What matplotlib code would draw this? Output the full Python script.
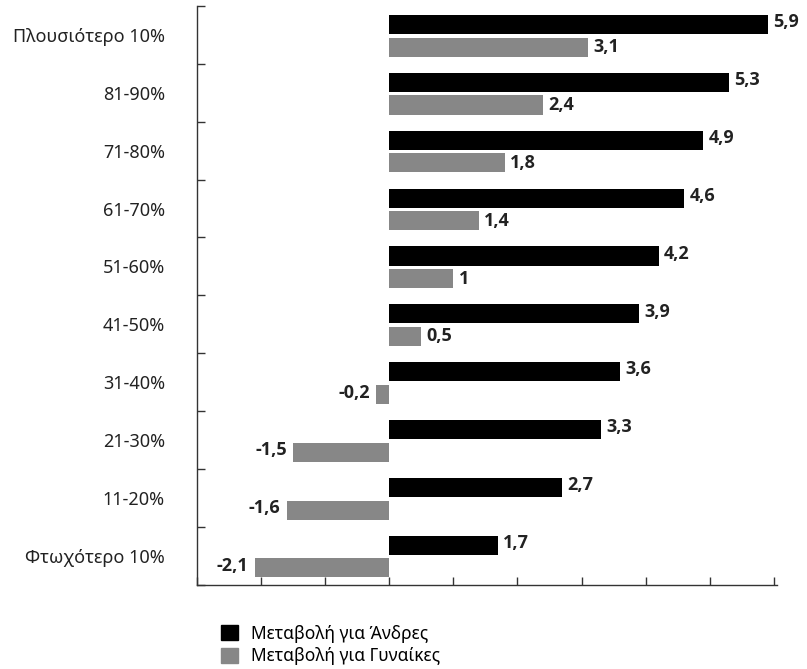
import numpy as np
import matplotlib.pyplot as plt
from matplotlib.patches import Patch

plt.rcParams['font.family'] = ['Noto Sans', 'DejaVu Sans']

categories = ["Φτωχότερο 10%", "11-20%", "21-30%", "31-40%", "41-50%",
              "51-60%", "61-70%", "71-80%", "81-90%", "Πλουσιότερο 10%"]
men = [1.7, 2.7, 3.3, 3.6, 3.9, 4.2, 4.6, 4.9, 5.3, 5.9]
women = [-2.1, -1.6, -1.5, -0.2, 0.5, 1, 1.4, 1.8, 2.4, 3.1]
men_label = "Μεταβολή για Άνδρες"
women_label = "Μεταβολή για Γυναίκες"

black = "#000000"
grey = "#878787"
txt = "#222222"
vfont = dict(fontsize=13, fontweight="bold", color=txt,
             family=["Open Sans", "DejaVu Sans"])

fig = plt.figure(figsize=(8.07, 6.69), dpi=100)
ax = fig.add_axes([0.244, 0.126, 0.719, 0.865])

y = np.arange(len(categories))
h = 0.33
ax.barh(y + 0.18, men, height=h, color=black)
ax.barh(y - 0.21, women, height=h, color=grey)

def fmt(v):
    return ("%g" % v).replace(".", ",")

for yi, v in zip(y, men):
    ax.text(v + 0.08, yi + 0.22, fmt(v), ha="left", va="center", **vfont)
for yi, v in zip(y, women):
    if v >= 0:
        ax.text(v + 0.08, yi - 0.21, fmt(v), ha="left", va="center", **vfont)
    else:
        ax.text(v - 0.1, yi - 0.18, fmt(v), ha="right", va="center", **vfont)

ax.set_xlim(-3, 6.05)
ax.set_ylim(-0.5, 9.5)
ax.set_xticks(np.arange(-3, 7))
ax.set_xticklabels([])
ax.set_yticks(np.arange(-0.5, 10, 1))
ax.set_yticklabels([])
ax.set_yticks(y, minor=True)
ax.set_yticklabels(categories, minor=True, fontsize=13, color=txt)
ax.tick_params(axis="y", which="minor", length=0, pad=23)
ax.tick_params(axis="both", which="major", direction="in", length=6,
               width=1, color="#333333")
for s in ["top", "right"]:
    ax.spines[s].set_visible(False)
for s in ["left", "bottom"]:
    ax.spines[s].set_color("#333333")
    ax.spines[s].set_linewidth(1)

handles = [Patch(color=black), Patch(color=grey)]
fig.legend(handles, [men_label, women_label], loc="upper left",
           bbox_to_anchor=(0.274, 0.066), frameon=False,
           handlelength=0.95, handleheight=0.95, handletextpad=0.75,
           labelspacing=0.25, borderaxespad=0, borderpad=0,
           prop={"family": ["Noto Sans", "DejaVu Sans"], "size": 12.5})

fig.savefig("out.png", dpi=100)
